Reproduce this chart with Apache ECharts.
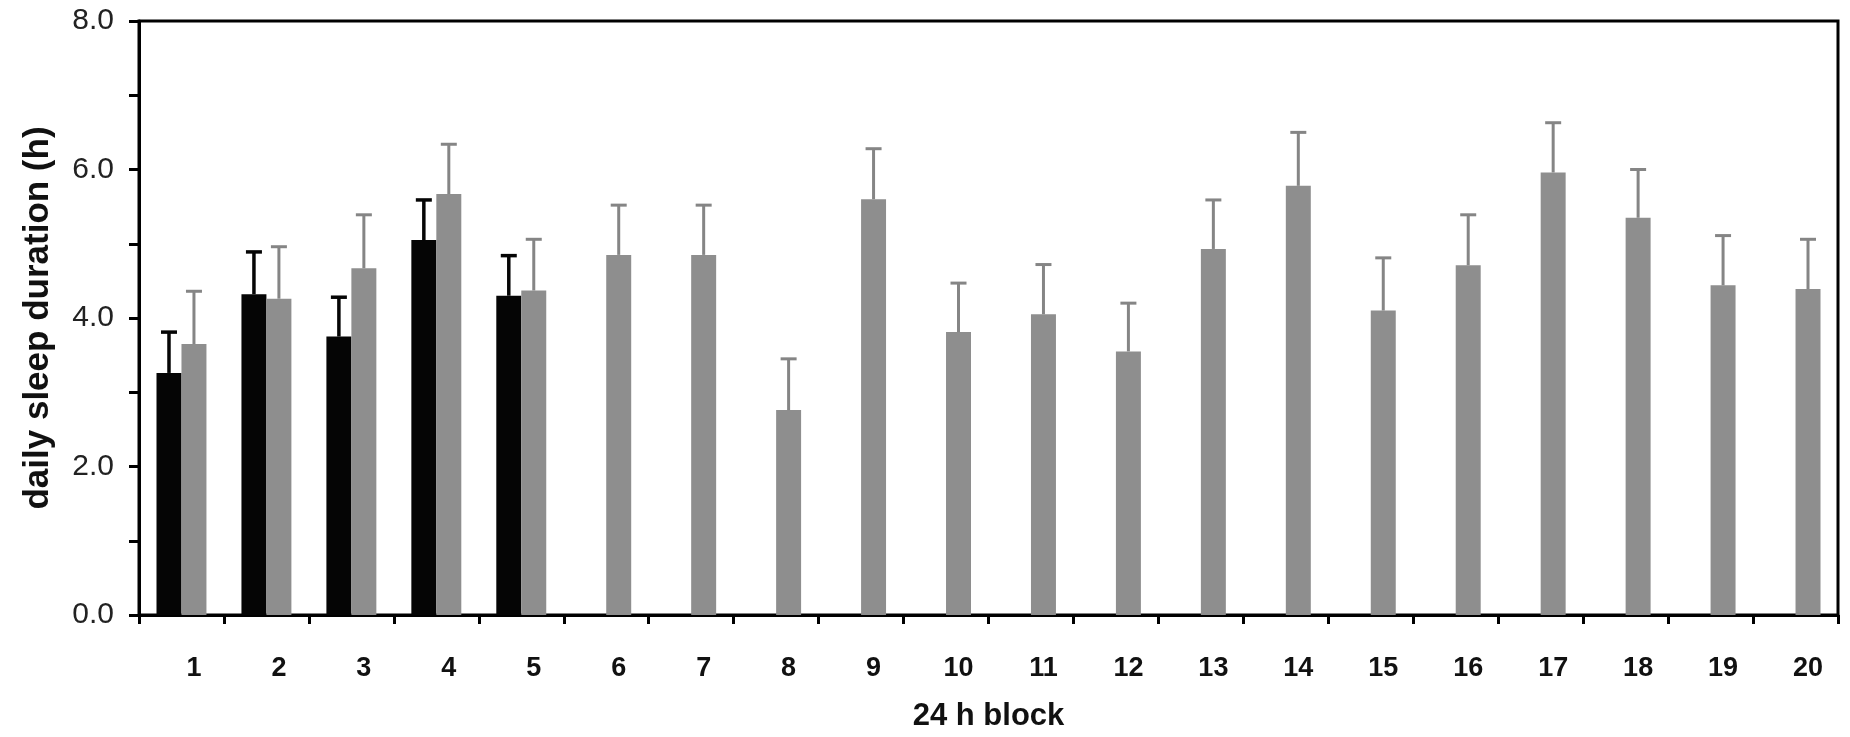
<!DOCTYPE html>
<html>
<head>
<meta charset="utf-8">
<script src="https://cdn.jsdelivr.net/npm/echarts@6/dist/echarts.min.js"></script>
<style>html,body{margin:0;padding:0;background:#fff;}#c{width:1850px;height:737px;}</style>
</head>
<body>
<div id="c"></div>
<script>
const categories = ['1','2','3','4','5','6','7','8','9','10','11','12','13','14','15','16','17','18','19','20'];
const blackMeans = [3.26, 4.32, 3.75, 5.05, 4.30, null, null, null, null, null, null, null, null, null, null, null, null, null, null, null];
const blackSD = [0.55, 0.57, 0.53, 0.54, 0.54, null, null, null, null, null, null, null, null, null, null, null, null, null, null, null];
const grayMeans = [3.65, 4.26, 4.67, 5.67, 4.37, 4.85, 4.85, 2.76, 5.60, 3.81, 4.05, 3.55, 4.93, 5.78, 4.10, 4.71, 5.96, 5.35, 4.44, 4.39];
const graySD = [0.71, 0.70, 0.72, 0.67, 0.69, 0.67, 0.67, 0.69, 0.68, 0.66, 0.67, 0.65, 0.66, 0.72, 0.71, 0.68, 0.67, 0.65, 0.67, 0.67];
const yTicks = [0, 1, 2, 3, 4, 5, 6, 7, 8];

const BAR_FRAC = 0.294; // bar width as fraction of category band
const FONT = '"Liberation Sans", Arial, Helvetica, sans-serif';

function errData(means, sds) {
  const out = [];
  means.forEach((m, i) => { if (m != null) out.push([i, m, sds[i]]); });
  return out;
}

function makeErr(side, color, width) {
  return function (params, api) {
    const idx = api.value(0), m = api.value(1), sd = api.value(2);
    const p0 = api.coord([idx, m]);
    const p1 = api.coord([idx, m + sd]);
    const band = api.size([1, 0])[0];
    const x = p0[0] + side * band * BAR_FRAC / 2;
    const cap = 8;
    return {
      type: 'group',
      children: [
        { type: 'line', shape: { x1: x, y1: p0[1], x2: x, y2: p1[1] }, style: { stroke: color, lineWidth: width } },
        { type: 'line', shape: { x1: x - cap, y1: p1[1], x2: x + cap, y2: p1[1] }, style: { stroke: color, lineWidth: width } }
      ]
    };
  };
}

const chart = echarts.init(document.getElementById('c'), null, { renderer: 'canvas' });
chart.setOption({
  backgroundColor: '#ffffff',
  animation: false,
  grid: { left: 139, right: 12, top: 21, bottom: 119, show: true, borderColor: '#000', borderWidth: 3, backgroundColor: 'transparent' },
  xAxis: {
    type: 'category',
    data: categories,
    name: '24 h block',
    nameLocation: 'middle',
    nameGap: 86,
    nameTextStyle: { fontFamily: FONT, fontWeight: 'bold', fontSize: 31, color: '#111' },
    axisLine: { lineStyle: { color: '#000', width: 3 } },
    axisTick: { show: true, length: 9, lineStyle: { color: '#000', width: 3 } },
    axisLabel: { fontFamily: FONT, fontWeight: 'bold', fontSize: 27, color: '#111', margin: 40, padding: [0, 0, 0, 25] },
    splitLine: { show: false }
  },
  yAxis: {
    type: 'value',
    min: yTicks[0],
    max: yTicks[yTicks.length - 1],
    interval: 1,
    name: 'daily sleep duration (h)',
    nameLocation: 'middle',
    nameGap: 83,
    nameRotate: 90,
    nameTextStyle: { fontFamily: FONT, fontWeight: 'bold', fontSize: 35, color: '#111' },
    axisLine: { show: true, lineStyle: { color: '#000', width: 3 } },
    axisTick: { show: true, length: 10, lineStyle: { color: '#000', width: 3 } },
    axisLabel: {
      fontFamily: FONT, fontSize: 30, color: '#222', margin: 25,
      formatter: v => (v % 2 === 0 ? v.toFixed(1) : '')
    },
    splitLine: { show: false }
  },
  series: [
    {
      type: 'bar', name: 'black', data: blackMeans, barWidth: (BAR_FRAC * 100) + '%', barGap: '0%',
      itemStyle: { color: '#050505' }
    },
    {
      type: 'bar', name: 'gray', data: grayMeans, barWidth: (BAR_FRAC * 100) + '%', barGap: '0%',
      itemStyle: { color: '#8e8e8e' }
    },
    {
      type: 'custom', data: errData(blackMeans, blackSD), renderItem: makeErr(-1, '#050505', 3.5), z: 5,
      encode: { x: 0, y: 1 }
    },
    {
      type: 'custom', data: errData(grayMeans, graySD), renderItem: makeErr(1, '#858585', 3), z: 5,
      encode: { x: 0, y: 1 }
    }
  ]
});
</script>
</body>
</html>
